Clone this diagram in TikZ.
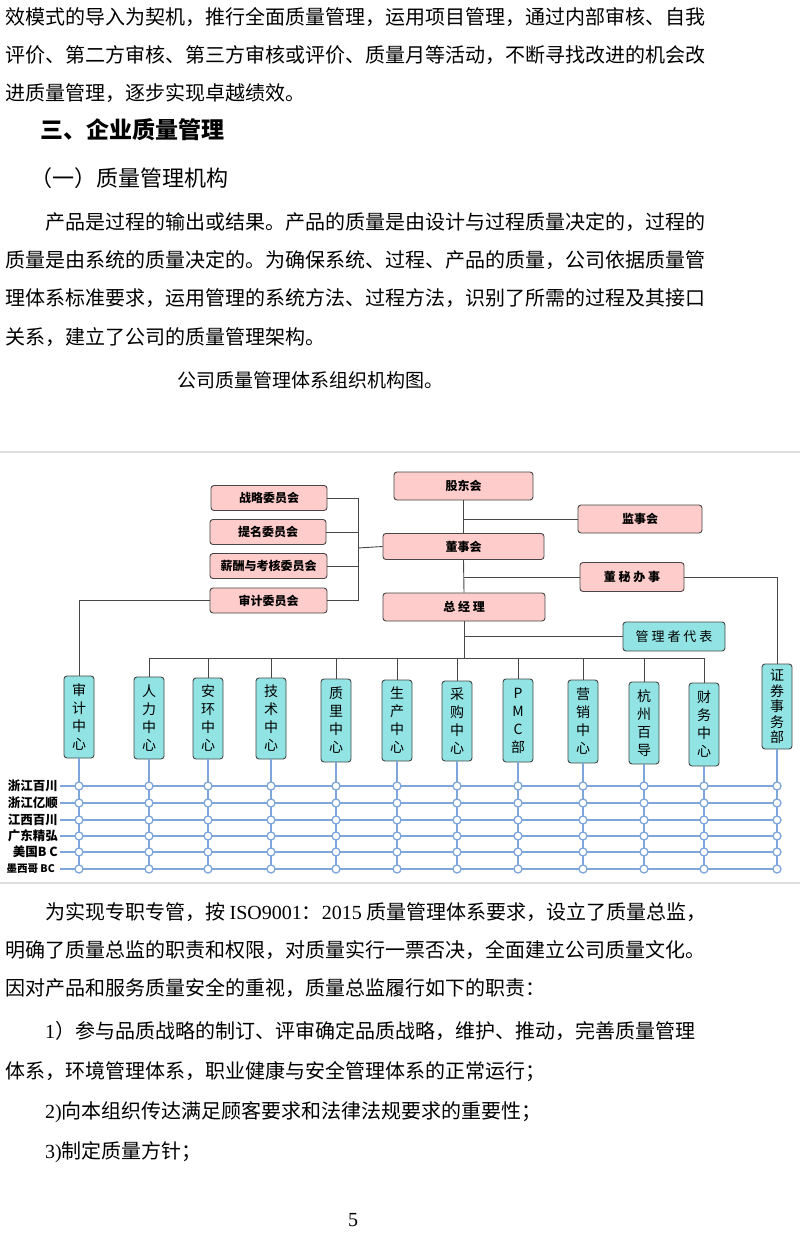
\documentclass[tikz,border=0pt]{standalone}
\usepackage{fontspec}
\newfontfamily\cjk{Noto Sans CJK SC}
\newfontfamily\latin{Liberation Serif}
\usetikzlibrary{positioning}
\definecolor{boxpink}{RGB}{255,204,204}
\definecolor{boxcyan}{RGB}{146,228,228}
\definecolor{gridblue}{RGB}{126,166,218}
\definecolor{linkgray}{RGB}{70,70,70}
\definecolor{rulegray}{RGB}{222,222,222}

\begin{document}
\begin{tikzpicture}[x=1pt,y=-1pt,
  bodytext/.style={anchor=west,inner sep=0pt,font=\cjk\fontsize{20}{24}\selectfont},
  pinkbox/.style={draw=linkgray,fill=boxpink,rounded corners=3pt,line width=0.9pt,inner sep=0pt,font=\cjk\bfseries\fontsize{12}{14}\selectfont},
  cyanbox/.style={draw=linkgray,fill=boxcyan,rounded corners=3pt,line width=0.9pt,inner sep=0pt,align=center},
  link/.style={draw=linkgray,line width=0.9pt},
  gridline/.style={draw=gridblue,line width=1.8pt},
  joint/.style={draw=gridblue,fill=white,line width=1.3pt},
  rowlabel/.style={anchor=east,inner sep=0pt,font=\cjk\bfseries\fontsize{12.5}{14}\selectfont}]
\fill[white] (0,0) rectangle (800,1241);
\useasboundingbox (0,0) rectangle (800,1241);

% text above the chart
\node[bodytext] (p1) at (5,17) {效模式的导入为契机，推行全面质量管理，运用项目管理，通过内部审核、自我};
\node[bodytext] (p2) at (5,55) {评价、第二方审核、第三方审核或评价、质量月等活动，不断寻找改进的机会改};
\node[bodytext] (p3) at (5,93) {进质量管理，逐步实现卓越绩效。};
\node[bodytext,font=\cjk\bfseries\fontsize{23}{26}\selectfont] (h1) at (40,130) {三、企业质量管理};
\node[bodytext,font=\cjk\fontsize{22}{26}\selectfont] (h2) at (30,178) {（一）质量管理机构};
\node[bodytext] (p4) at (45,222) {产品是过程的输出或结果。产品的质量是由设计与过程质量决定的，过程的};
\node[bodytext] (p5) at (5,260) {质量是由系统的质量决定的。为确保系统、过程、产品的质量，公司依据质量管};
\node[bodytext] (p6) at (5,298) {理体系标准要求，运用管理的系统方法、过程方法，识别了所需的过程及其接口};
\node[bodytext] (p7) at (5,337) {关系，建立了公司的质量管理架构。};
\node[bodytext,font=\cjk\fontsize{19}{24}\selectfont] (cap) at (177,380) {公司质量管理体系组织机构图。};

\draw[rulegray,line width=1.5pt] (0,452) -- (800,452);
\draw[rulegray,line width=1.5pt] (0,883) -- (800,883);

% pink boxes
\node[pinkbox,minimum width=139pt,minimum height=28pt] (gudong) at (463.5,486) {股东会};
\node[pinkbox,minimum width=124pt,minimum height=28pt] (jianshi) at (640,519) {监事会};
\node[pinkbox,minimum width=161pt,minimum height=26pt] (dongshi) at (463.5,546.5) {董事会};
\node[pinkbox,minimum width=104pt,minimum height=29pt] (dongmi) at (632,577) {董 秘 办 事};
\node[pinkbox,minimum width=162pt,minimum height=28pt] (zongjingli) at (464,607) {总 经 理};
\node[pinkbox,minimum width=116pt,minimum height=25pt] (zhanlue) at (269,498) {战略委员会};
\node[pinkbox,minimum width=116pt,minimum height=25pt] (timing) at (268,532) {提名委员会};
\node[pinkbox,minimum width=117pt,minimum height=25pt] (xinchou) at (268.5,566) {薪酬与考核委员会};
\node[pinkbox,minimum width=117pt,minimum height=25pt] (shenjiwh) at (268.5,600.5) {审计委员会};
\node[cyanbox,minimum width=102pt,minimum height=29pt,font=\cjk\fontsize{13}{15}\selectfont] (daibiao) at (674,636.5) {管 理 者 代 表};

% vertical centre boxes
\foreach \n/\x/\t/\b/\ls/\txt in {
  shenji/79/676/758/18/审\\计\\中\\心,
  renli/149/677/759/18/人\\力\\中\\心,
  anhuan/208/678/759/18/安\\环\\中\\心,
  jishu/271/678/759/18/技\\术\\中\\心,
  zhiliang/336/679/762/18/质\\里\\中\\心,
  shengchan/397/680/761/18/生\\产\\中\\心,
  caigou/457/681/761/18/采\\购\\中\\心,
  pmc/518/679/762/18/P\\M\\C\\部,
  yingxiao/583/680/763/18/营\\销\\中\\心,
  hangzhou/644/682/764/18/杭\\州\\百\\导,
  caiwu/704/683/766/18/财\\务\\中\\心,
  zhengquan/777/664/749/15.5/证\\券\\事\\务\\部}{
  \pgfmathsetmacro\h{\b-\t}
  \pgfmathsetmacro\c{(\t+\b)/2}
  \node[cyanbox,minimum width=30pt,minimum height=\h pt,font=\cjk\fontsize{14}{\ls}\selectfont] (\n) at (\x,\c) {\txt};
}

% links
\draw[link] (gudong.south) -- (dongshi.north);
\coordinate (j1) at (gudong.south |- jianshi.west);
\draw[link] (j1) -- (jianshi.west);
\draw[link] (dongshi.south) -- (zongjingli.north);
\coordinate (j2) at (dongshi.south |- dongmi.west);
\draw[link] (j2) -- (dongmi.west);
\draw[link] (dongmi.east) -| (zhengquan.north);
\coordinate (bus) at (464,658);
\draw[link] (zongjingli.south) -- (bus);
\coordinate (j3) at (zongjingli.south |- daibiao.west);
\draw[link] (j3) -- (daibiao.west);
\draw[link] (renli.north |- bus) -- (caiwu.north |- bus);
\foreach \n in {renli,anhuan,jishu,zhiliang,shengchan,caigou,pmc,yingxiao,hangzhou,caiwu}
  \draw[link] (\n.north |- bus) -- (\n.north);
\coordinate (brk) at (358,548);
\foreach \n in {zhanlue,timing,xinchou,shenjiwh}
  \draw[link] (\n.east) -- (\n.east -| brk);
\draw[link] (zhanlue.east -| brk) -- (shenjiwh.east -| brk);
\draw[link] (brk) -- (dongshi.west);
\draw[link] (shenjiwh.west) -| (shenji.north);

% company rows
\node[rowlabel] (r1) at (58,786) {浙江百川};
\node[rowlabel] (r2) at (58,803) {浙江亿顺};
\node[rowlabel] (r3) at (58,820) {江西百川};
\node[rowlabel] (r4) at (58,836) {广东精弘};
\node[rowlabel] (r5) at (58,852) {美国B C};
\node[rowlabel,font=\cjk\bfseries\fontsize{10.5}{12}\selectfont] (r6) at (55,869) {墨西哥 BC};
\foreach \n in {shenji,renli,anhuan,jishu,zhiliang,shengchan,caigou,pmc,yingxiao,hangzhou,caiwu,zhengquan}
  \draw[gridline] (\n.south) -- (\n.south |- r6.east);
\foreach \i in {1,...,6}
  \draw[gridline] ([xshift=2pt]58,0 |- r\i.east) -- (zhengquan.south |- r\i.east);
\foreach \n in {shenji,renli,anhuan,jishu,zhiliang,shengchan,caigou,pmc,yingxiao,hangzhou,caiwu,zhengquan}
  \foreach \i in {1,...,6}
    \draw[joint] (\n.south |- r\i.east) circle (4pt);

% text below the chart
\node[bodytext] (q1) at (45,912) {为实现专职专管，按 {\latin ISO9001}：{\latin 2015} 质量管理体系要求，设立了质量总监，};
\node[bodytext] (q2) at (5,950) {明确了质量总监的职责和权限，对质量实行一票否决，全面建立公司质量文化。};
\node[bodytext] (q3) at (5,988) {因对产品和服务质量安全的重视，质量总监履行如下的职责：};
\node[bodytext] (q4) at (45,1031) {{\latin 1}）参与品质战略的制订、评审确定品质战略，维护、推动，完善质量管理};
\node[bodytext] (q5) at (5,1072) {体系，环境管理体系，职业健康与安全管理体系的正常运行；};
\node[bodytext] (q6) at (45,1112) {{\latin 2)}向本组织传达满足顾客要求和法律法规要求的重要性；};
\node[bodytext] (q7) at (45,1152) {{\latin 3)}制定质量方针；};
\node[inner sep=0pt,font=\latin\fontsize{20}{24}\selectfont] (pageno) at (353,1220) {5};
\end{tikzpicture}
\end{document}
